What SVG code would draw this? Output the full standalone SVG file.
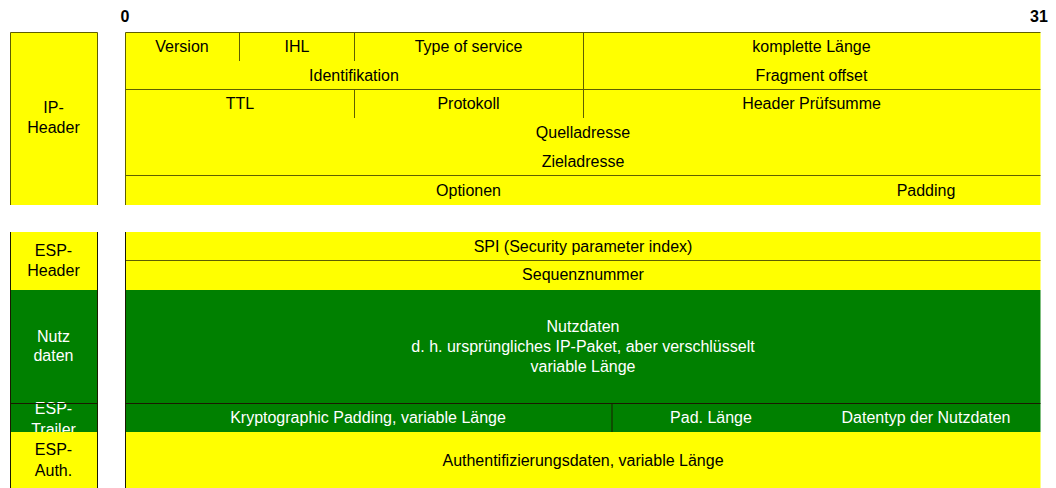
<svg xmlns="http://www.w3.org/2000/svg" width="1056" height="488" viewBox="0 0 1056 488">
<style>
text{font-family:"Liberation Sans",Arial,sans-serif;font-size:16px;text-anchor:middle;fill:#000}
.w{fill:#fff}
.b{font-weight:bold}
.y{fill:#ffff00}
.g{fill:#008000}
.ln{stroke:#5e5e00;stroke-width:1;fill:none}
.dk{stroke:#1a1a00;stroke-width:1;fill:none}
</style>
<rect width="1056" height="488" fill="#fff"/>
<text class="b" x="125" y="22">0</text>
<text class="b" x="1039" y="22">31</text>

<g id="ip-label">
<rect class="y" x="10.5" y="32.5" width="87" height="172.5"/>
<path class="ln" d="M10.5 205V32.5H97.5V205"/>
<text x="53.5" y="113">IP-</text>
<text x="53.5" y="133">Header</text>
</g>

<g id="ip-header">
<rect class="y" x="125.5" y="32.5" width="915" height="172.5"/>
<path class="ln" d="M125.5 205V32.5H1040.5"/>
<text x="182" y="51.5">Version</text>
<text x="297" y="51.5">IHL</text>
<text x="468.5" y="51.5">Type of service</text>
<text x="811.5" y="51.5">komplette Länge</text>
<text x="354" y="80.5">Identifikation</text>
<text x="811.5" y="80.5">Fragment offset</text>
<text x="240" y="109">TTL</text>
<text x="468.5" y="109">Protokoll</text>
<text x="811.5" y="109">Header Prüfsumme</text>
<text x="583" y="138">Quelladresse</text>
<text x="583" y="167">Zieladresse</text>
<text x="468.5" y="195.5">Optionen</text>
<text x="926" y="195.5">Padding</text>
</g>

<g id="connectors">
<path class="ln" d="M239.5 32.5V61M354.5 32.5V61M583.5 32.5V89.5M125.5 89.5H1040.5M354.5 89.5V118M583.5 89.5V118M125.5 175.5H1040.5"/>
</g>

<g id="esp-header-label">
<rect class="y" x="10.5" y="232" width="87" height="58"/>
<text x="53.5" y="256">ESP-</text>
<text x="53.5" y="276">Header</text>
</g>
<g id="nutzdaten-label">
<rect class="g" x="10.5" y="290" width="87" height="113.5"/>
<text class="w" x="53.5" y="342">Nutz</text>
<text class="w" x="53.5" y="361">daten</text>
</g>
<g id="trailer-label">
<rect class="g" x="10.5" y="403.5" width="87" height="28.5"/>
<text class="w" x="53.5" y="414">ESP-</text>
<text class="w" x="53.5" y="435">Trailer</text>
</g>
<g id="auth-label">
<rect class="y" x="10.5" y="432" width="87" height="56"/>
<text x="53.5" y="455">ESP-</text>
<text x="53.5" y="476">Auth.</text>
</g>

<g id="spi">
<rect class="y" x="125.5" y="232" width="915" height="29"/>
<text x="583" y="252">SPI (Security parameter index)</text>
</g>
<g id="sequenznummer">
<rect class="y" x="125.5" y="261" width="915" height="29"/>
<text x="583" y="280">Sequenznummer</text>
</g>
<g id="nutzdaten">
<rect class="g" x="125.5" y="290" width="915" height="113.5"/>
<text class="w" x="583" y="332">Nutzdaten</text>
<text class="w" x="583" y="352">d. h. ursprüngliches IP-Paket, aber verschlüsselt</text>
<text class="w" x="583" y="372">variable Länge</text>
</g>
<g id="trailer">
<rect class="g" x="125.5" y="403.5" width="915" height="28.5"/>
<text class="w" x="368" y="423">Kryptographic Padding, variable Länge</text>
<text class="w" x="711" y="423">Pad. Länge</text>
<text class="w" x="926" y="423">Datentyp der Nutzdaten</text>
</g>
<g id="auth">
<rect class="y" x="125.5" y="432" width="915" height="56"/>
<text x="583" y="466">Authentifizierungsdaten, variable Länge</text>
</g>

<g id="esp-connectors">
<path class="ln" d="M125.5 260.5H1040.5"/>
<path class="dk" d="M10.5 232V488M97.5 232V488M125.5 232V488M10.5 403.5H97.5M125.5 403.5H1040.5M612 403.5V432"/>
</g>
</svg>
